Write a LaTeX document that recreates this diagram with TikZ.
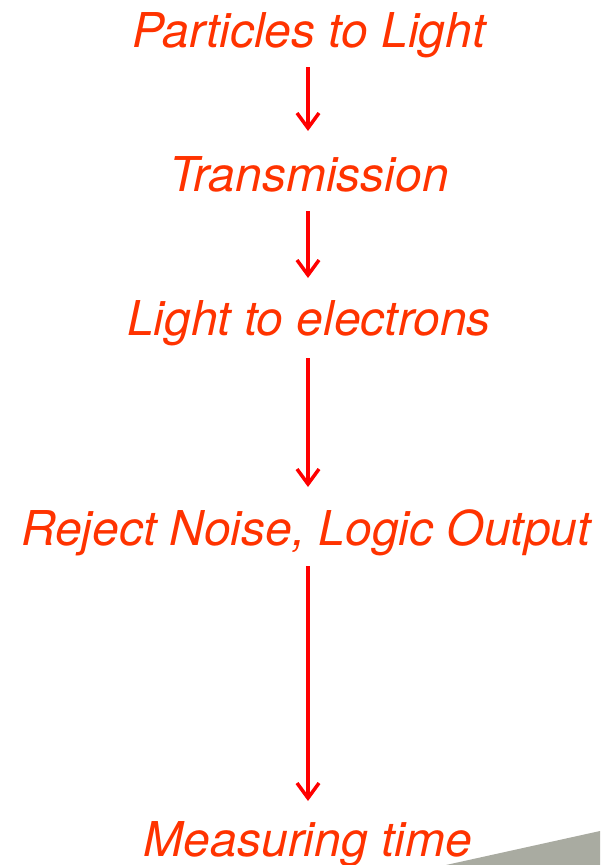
\documentclass[tikz,border=0pt]{standalone}
\usepackage{fontspec}
\setmainfont{TeX Gyre Heros}
\usetikzlibrary{arrows.meta}
\definecolor{txtred}{HTML}{FF3300}
\definecolor{arrred}{HTML}{FF0000}
\definecolor{greyshape}{HTML}{A9ABA1}
\tikzset{
  label/.style={text=txtred, font=\fontsize{48}{51}\selectfont\itshape, anchor=base, inner sep=0pt},
  flow/.style={draw=arrred, line width=3.5pt, -{Straight Barb[length=15pt,width=22pt,line width=3.5pt]}}
}
\begin{document}
\begin{tikzpicture}[x=1pt,y=-1pt]
\useasboundingbox (0,0) rectangle (600,865);
\fill[greyshape] (446,865) -- (600,831) -- (600,865) -- cycle;
\node[label] (a) at (309,47) {Particles to Light};
\node[label] (b) at (309,191) {Transmission};
\node[label] (c) at (309,335) {Light to electrons};
\node[label] (d) at (306,545) {Reject Noise, Logic Output};
\node[label] (e) at (308,856) {Measuring time};
\coordinate (a1) at (308,67); \coordinate (a2) at (308,131);
\coordinate (b1) at (308,211); \coordinate (b2) at (308,278);
\coordinate (c1) at (308,358); \coordinate (c2) at (308,487);
\coordinate (d1) at (308,566); \coordinate (d2) at (308,801);
\draw[flow] (a1) -- (a2);
\draw[flow] (b1) -- (b2);
\draw[flow] (c1) -- (c2);
\draw[flow] (d1) -- (d2);
\end{tikzpicture}
\end{document}
